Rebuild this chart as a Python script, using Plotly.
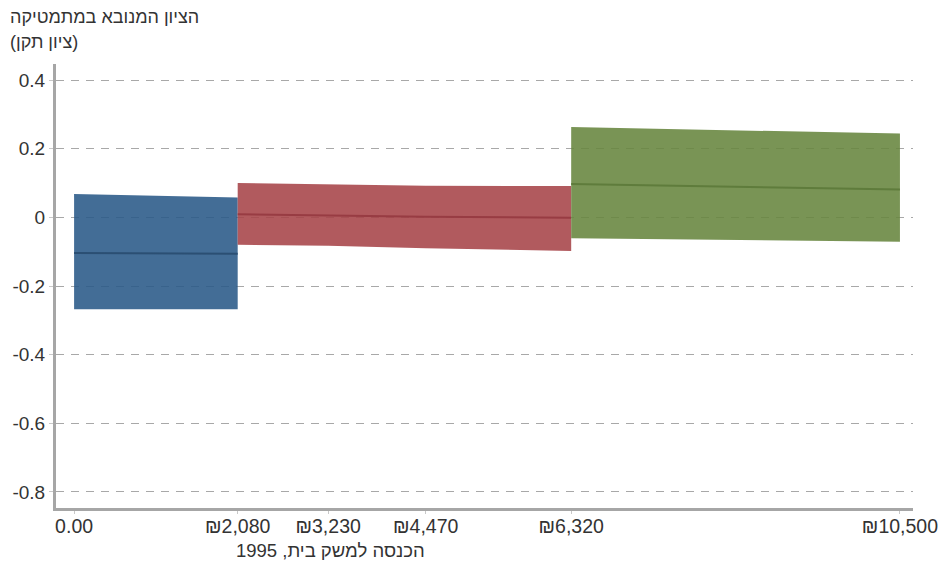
import plotly.graph_objects as go

# ---- data ----
tick_x = [0, 2080, 3230, 4470, 6320, 10500]
tick_x_labels = ["0.00", "₪2,080", "₪3,230", "₪4,470", "₪6,320", "₪10,500"]
tick_y = [0.4, 0.2, 0, -0.2, -0.4, -0.6, -0.8]
tick_y_labels = ["0.4", "0.2", "0", "-0.2", "-0.4", "-0.6", "-0.8"]

blue_x = [0, 1000, 2080]
blue_upper = [0.068, 0.064, 0.058]
blue_mid = [-0.104, -0.105, -0.106]
blue_lower = [-0.268, -0.268, -0.268]

red_x = [2080, 3230, 4470, 6320]
red_upper = [0.100, 0.096, 0.092, 0.091]
red_mid = [0.009, 0.005, 0.002, -0.001]
red_lower = [-0.080, -0.083, -0.090, -0.098]

green_x = [6320, 7700, 9000, 10500]
green_upper = [0.263, 0.257, 0.251, 0.244]
green_mid = [0.097, 0.092, 0.086, 0.081]
green_lower = [-0.061, -0.064, -0.068, -0.071]

x_title = "הכנסה למשק בית, 1995"
y_title_1 = "הציון המנובא במתמטיקה"
y_title_2 = "(ציון תקן)"

bands = [
    (blue_x, blue_upper, blue_mid, blue_lower, "rgba(41,89,136,0.88)", "#2b4f73"),
    (red_x, red_upper, red_mid, red_lower, "rgba(166,67,72,0.88)", "#983c43"),
    (green_x, green_upper, green_mid, green_lower, "rgba(102,133,61,0.88)", "#5f7c3c"),
]

fig = go.Figure()
for bx, up, mid, lo, fillc, linec in bands:
    fig.add_trace(go.Scatter(
        x=bx + bx[::-1], y=up + lo[::-1], fill="toself", fillcolor=fillc,
        mode="lines", line=dict(width=0), hoverinfo="skip", showlegend=False))
    fig.add_trace(go.Scatter(
        x=bx, y=mid, mode="lines", line=dict(color=linec, width=2),
        showlegend=False))

font = "Liberation Sans, Arial, sans-serif"
fig.update_layout(
    width=952, height=563,
    margin=dict(l=56, r=39, t=64, b=55),
    paper_bgcolor="white", plot_bgcolor="white",
    font=dict(family=font, size=16, color="#333333"),
    xaxis=dict(
        range=[-230, 10666], tickvals=tick_x, ticktext=tick_x_labels,
        showgrid=False, zeroline=False, showline=True, linecolor="#a6a6a6",
        linewidth=3, ticks="outside", ticklen=3, tickcolor="#c8c8c8",
        ticklabelstandoff=-4,
        tickfont=dict(size=19.5, color="#333333"),
    ),
    yaxis=dict(
        range=[-0.8467, 0.4467], tickvals=tick_y, ticktext=tick_y_labels,
        showgrid=True, gridcolor="#a8a8a8", griddash="8px,7px", gridwidth=1,
        zeroline=False, showline=True, linecolor="#a6a6a6", linewidth=3,
        ticks="outside", ticklen=4, tickcolor="#c8c8c8",
        tickfont=dict(size=19, color="#333333"),
    ),
    annotations=[
        dict(text=x_title, xref="paper", yref="paper", x=0.32, y=-0.0946,
             xanchor="center", yanchor="middle", showarrow=False,
             font=dict(size=18.5, color="#333333")),
        dict(text=y_title_1, xref="paper", yref="paper", x=-0.056, y=1.106,
             xanchor="left", yanchor="middle", showarrow=False,
             font=dict(size=18, color="#333333")),
        dict(text=y_title_2, xref="paper", yref="paper", x=-0.056, y=1.0495,
             xanchor="left", yanchor="middle", showarrow=False,
             font=dict(size=18, color="#333333")),
    ],
)

fig.write_html("out.html", config={"displayModeBar": False},
               post_script="document.body.style.margin='0';")
